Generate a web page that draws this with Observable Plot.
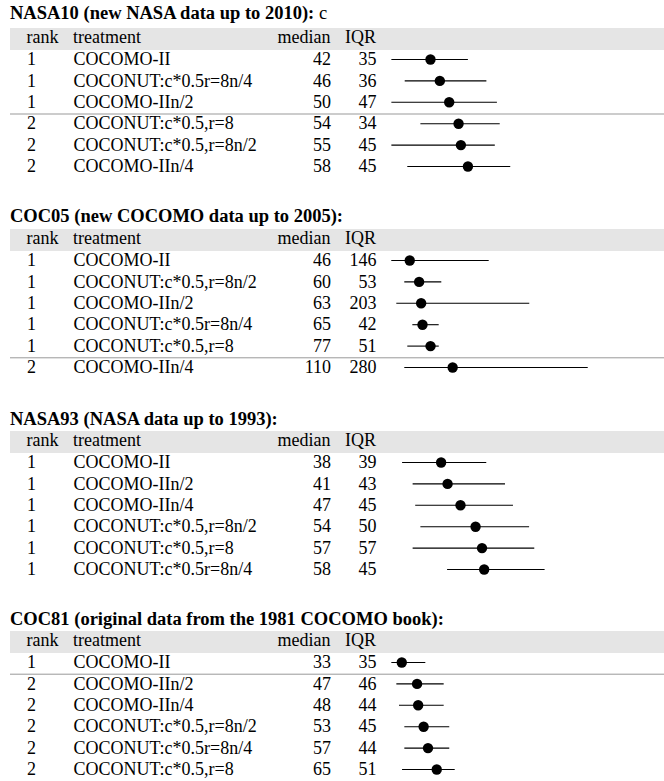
<!DOCTYPE html>
<html>
<head>
<meta charset="utf-8">
<script src="https://cdn.jsdelivr.net/npm/d3@7"></script>
<script src="https://cdn.jsdelivr.net/npm/@observablehq/plot@0.6"></script>
<style>
  html, body { margin: 0; padding: 0; background: #fff; }
  #root { position: relative; width: 664px; height: 781px; font-family: "Liberation Serif", "Times New Roman", serif; color: #000; }
  .title { position: absolute; left: 10px; font-size: 18.5px; line-height: 18px; font-weight: bold; white-space: nowrap; }
  .title span { font-weight: normal; }
  .band { position: absolute; left: 10px; width: 654px; height: 21.7px; background: #e5e5e5; }
  .hdr { position: absolute; font-size: 18px; line-height: 18px; white-space: nowrap; }
  svg.panel { position: absolute; left: 0; overflow: visible; }
</style>
</head>
<body>
<div id="root"></div>
<script>
// ---------------- data ----------------
const panelTitles = [
  "NASA10 (new NASA data up to 2010):",
  "COC05 (new COCOMO data up to 2005):",
  "NASA93 (NASA data up to 1993):",
  "COC81 (original data from the 1981 COCOMO book):"
];
const panelTitleSuffix = [" c", "", "", ""];
const headers = ["rank", "treatment", "median", "IQR"];

// NASA10
const nasa10Rank = [1, 1, 1, 2, 2, 2];
const nasa10Treatment = ["COCOMO-II", "COCONUT:c*0.5r=8n/4", "COCOMO-IIn/2", "COCONUT:c*0.5,r=8", "COCONUT:c*0.5,r=8n/2", "COCOMO-IIn/4"];
const nasa10Median = [42, 46, 50, 54, 55, 58];
const nasa10IQR = [35, 36, 47, 34, 45, 45];
const nasa10Q1 = [25.5, 31.2, 25.5, 37.9, 25.5, 32.3];
const nasa10Q3 = [58.2, 66.1, 70.6, 71.8, 69.7, 76.3];

// COC05
const coc05Rank = [1, 1, 1, 1, 1, 2];
const coc05Treatment = ["COCOMO-II", "COCONUT:c*0.5,r=8n/2", "COCOMO-IIn/2", "COCONUT:c*0.5r=8n/4", "COCONUT:c*0.5,r=8", "COCOMO-IIn/4"];
const coc05Median = [46, 60, 63, 65, 77, 110];
const coc05IQR = [146, 53, 203, 42, 51, 280];
const coc05Q1 = [19.2, 38.6, 26.7, 50.6, 43.1, 38.6];
const coc05Q3 = [164.5, 93.8, 225, 89.9, 90, 312.2];

// NASA93
const nasa93Rank = [1, 1, 1, 1, 1, 1];
const nasa93Treatment = ["COCOMO-II", "COCOMO-IIn/2", "COCOMO-IIn/4", "COCONUT:c*0.5,r=8n/2", "COCONUT:c*0.5,r=8", "COCONUT:c*0.5r=8n/4"];
const nasa93Median = [38, 41, 47, 54, 57, 58];
const nasa93IQR = [39, 43, 45, 50, 57, 45];
const nasa93Q1 = [20.1, 25.0, 26.2, 28.6, 25.0, 41.0];
const nasa93Q3 = [59.2, 67.9, 71.6, 79.1, 81.5, 86.3];

// COC81
const coc81Rank = [1, 2, 2, 2, 2, 2];
const coc81Treatment = ["COCOMO-II", "COCOMO-IIn/2", "COCOMO-IIn/4", "COCONUT:c*0.5,r=8n/2", "COCONUT:c*0.5r=8n/4", "COCONUT:c*0.5,r=8"];
const coc81Median = [33, 47, 48, 53, 57, 65];
const coc81IQR = [35, 46, 44, 45, 44, 51];
const coc81Q1 = [23.9, 28.5, 30.9, 35.8, 35.8, 33.7];
const coc81Q3 = [55.0, 71.8, 71.8, 76.9, 76.9, 81.9];

// ---------------- layout (per panel) ----------------
const panels = [
  {rank: nasa10Rank, treatment: nasa10Treatment, median: nasa10Median, iqr: nasa10IQR, q1: nasa10Q1, q3: nasa10Q3},
  {rank: coc05Rank, treatment: coc05Treatment, median: coc05Median, iqr: coc05IQR, q1: coc05Q1, q3: coc05Q3},
  {rank: nasa93Rank, treatment: nasa93Treatment, median: nasa93Median, iqr: nasa93IQR, q1: nasa93Q1, q3: nasa93Q3},
  {rank: coc81Rank, treatment: coc81Treatment, median: coc81Median, iqr: coc81IQR, q1: coc81Q1, q3: coc81Q3}
];
const bandTops = [28.3, 229, 431, 631];
const titleTops = [3.9, 206.6, 409.9, 609.9];
// x scale: value 0..100 mapped to pixel range per panel
const xRanges = [[331.7, 565.7], [378.4, 445.45], [358.8, 574.1], [365.2, 474.5]];

const root = document.getElementById("root");
const FONT = "Liberation Serif, Times New Roman, serif";

panels.forEach((p, k) => {
  // title
  const t = document.createElement("div");
  t.className = "title";
  t.style.top = titleTops[k] + "px";
  t.textContent = panelTitles[k];
  if (panelTitleSuffix[k]) {
    const s = document.createElement("span");
    s.textContent = panelTitleSuffix[k];
    t.appendChild(s);
  }
  root.appendChild(t);

  // header band
  const band = document.createElement("div");
  band.className = "band";
  band.style.top = bandTops[k] + "px";
  root.appendChild(band);

  const hdrPos = [
    {left: 26.5}, {left: 73}, {right: 664 - 330.5}, {right: 664 - 376}
  ];
  headers.forEach((h, j) => {
    const e = document.createElement("div");
    e.className = "hdr";
    e.style.top = (bandTops[k] - 0.5) + "px";
    if (hdrPos[j].left != null) e.style.left = hdrPos[j].left + "px";
    else e.style.right = hdrPos[j].right + "px";
    e.textContent = h;
    root.appendChild(e);
  });

  const rows = p.rank.map((r, i) => ({
    i, rank: r, treatment: p.treatment[i], median: p.median[i], iqr: p.iqr[i], q1: p.q1[i], q3: p.q3[i]
  }));
  const dividers = rows.filter((d, i) => i > 0 && d.rank !== rows[i - 1].rank).map(d => ({pos: d.i - 0.5}));

  const chart = Plot.plot({
    width: 664,
    height: 130,
    margin: 0,
    style: {fontFamily: FONT, fontSize: "18px", background: "transparent", color: "#000"},
    x: {type: "linear", domain: [0, 100], range: xRanges[k], axis: null},
    y: {type: "linear", domain: [0, 5], range: [9, 116], axis: null},
    marks: [
      Plot.ruleY(dividers, {y: "pos", dy: 1, insetLeft: 10, stroke: "#999", strokeWidth: 1}),
      Plot.text(rows, {y: "i", text: d => String(d.rank), frameAnchor: "left", dx: 26.5, textAnchor: "start", fontSize: 18, fill: "#000"}),
      Plot.text(rows, {y: "i", text: "treatment", frameAnchor: "left", dx: 73, textAnchor: "start", fontSize: 18, fill: "#000"}),
      Plot.text(rows, {y: "i", text: d => String(d.median), frameAnchor: "left", dx: 330.5, textAnchor: "end", fontSize: 18, fill: "#000"}),
      Plot.text(rows, {y: "i", text: d => String(d.iqr), frameAnchor: "left", dx: 376, textAnchor: "end", fontSize: 18, fill: "#000"}),
      Plot.ruleY(rows, {y: "i", x1: "q1", x2: "q3", stroke: "#000", strokeWidth: 1.1}),
      Plot.dot(rows, {y: "i", x: "median", r: 5.2, fill: "#000", stroke: "none"})
    ]
  });
  chart.classList.add("panel");
  chart.style.top = (bandTops[k] + 21.7) + "px";
  root.appendChild(chart);
});
</script>
</body>
</html>
